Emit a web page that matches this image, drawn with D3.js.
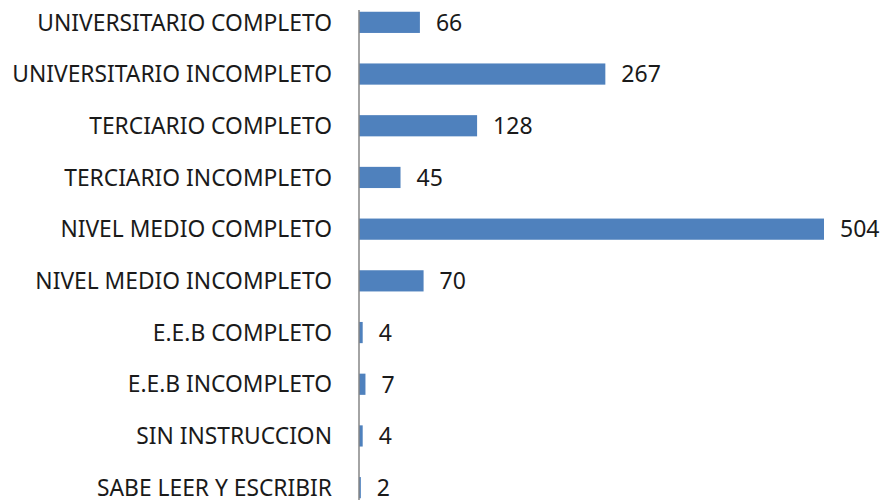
<html>
<head>
  <script src="https://d3js.org/d3.v7.min.js"></script>
  <style>
    body { margin: 0; background: #fff; }
    text { font-family: "Noto Sans", "Open Sans", sans-serif; fill: #1a1a1a; }
  </style>
</head>
<body>
  <svg width="885" height="500" id="chart"></svg>
  <script>
    // categories top to bottom, as shown
    const categories = ["UNIVERSITARIO COMPLETO", "UNIVERSITARIO INCOMPLETO", "TERCIARIO COMPLETO",
      "TERCIARIO INCOMPLETO", "NIVEL MEDIO COMPLETO", "NIVEL MEDIO INCOMPLETO", "E.E.B COMPLETO",
      "E.E.B INCOMPLETO", "SIN INSTRUCCION", "SABE LEER Y ESCRIBIR"];
    const values = [66, 267, 128, 45, 504, 70, 4, 7, 4, 2];

    const svg = d3.select("#chart");
    const x0 = 359;

    const x = d3.scaleLinear().domain([0, 504]).range([x0, 824]);
    const y = d3.scaleBand().domain(categories).range([-3.5, 513.5]).paddingInner(0.59).paddingOuter(0.295);

    const rows = categories.map((c, i) => ({ name: c, value: values[i] }));

    svg.selectAll("rect.bar").data(rows)
      .join("rect").attr("class", "bar")
      .attr("x", x(0))
      .attr("y", d => y(d.name))
      .attr("width", d => x(d.value) - x(0))
      .attr("height", y.bandwidth())
      .attr("fill", "#4f81bd");

    // axis line
    svg.append("line")
      .attr("x1", x0).attr("x2", x0)
      .attr("y1", 10).attr("y2", 500)
      .attr("stroke", "#868686").attr("stroke-width", 1.5);

    svg.selectAll("text.cat").data(rows)
      .join("text").attr("class", "cat")
      .attr("x", 332)
      .attr("y", d => y(d.name) + y.bandwidth() / 2)
      .attr("dy", "0.36em")
      .attr("text-anchor", "end")
      .style("font-size", "22.8px")
      .text(d => d.name);

    svg.selectAll("text.val").data(rows)
      .join("text").attr("class", "val")
      .attr("x", d => x(d.value) + 16)
      .attr("y", d => y(d.name) + y.bandwidth() / 2)
      .attr("dy", "0.36em")
      .style("font-size", "23px")
      .text(d => d.value);
  </script>
</body>
</html>
